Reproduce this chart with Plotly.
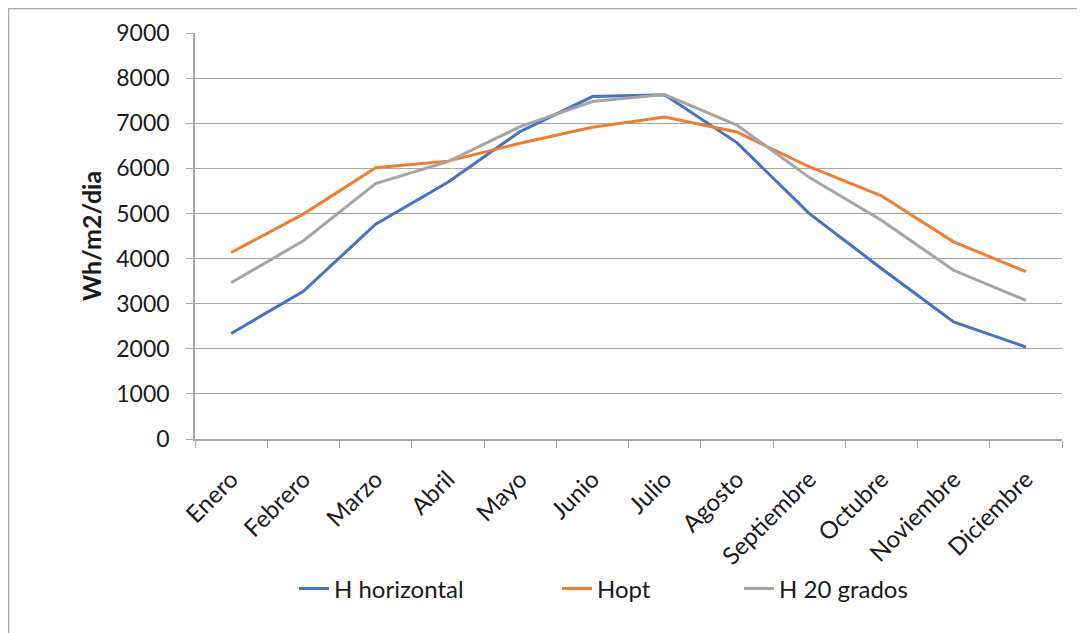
import plotly.graph_objects as go

meses = ["Enero", "Febrero", "Marzo", "Abril", "Mayo", "Junio", "Julio",
         "Agosto", "Septiembre", "Octubre", "Noviembre", "Diciembre"]
h_horizontal = [2340, 3275, 4760, 5690, 6815, 7590, 7630, 6570, 5000, 3780, 2595, 2040]
h_opt = [4135, 4985, 6015, 6160, 6555, 6910, 7135, 6805, 6035, 5390, 4370, 3710]
h_20_grados = [3465, 4395, 5660, 6150, 6925, 7480, 7635, 6960, 5800, 4850, 3740, 3075]
y_ticks = [0, 1000, 2000, 3000, 4000, 5000, 6000, 7000, 8000, 9000]

# page coordinates (browser body has an 8px margin)
OFF = 8
W, H = 1085, 633
PL, PR, PT, PB = 195, 1062, 33, 439   # plot area in page pixels
L, T = PL - OFF, PT - OFF
R = W - (PR - OFF)
B = H - (PB - OFF)
pw, ph = PR - PL, PB - PT

def px(x):
    return (x - PL) / pw

def py(y):
    return (PB - y) / ph

fig = go.Figure()
series = [("H horizontal", h_horizontal, "#4472C4", "legend", 294),
          ("Hopt", h_opt, "#ED7D31", "legend2", 557),
          ("H 20 grados", h_20_grados, "#A5A5A5", "legend3", 739)]
legends = {}
for name, vals, col, lg, lx in series:
    fig.add_trace(go.Scatter(x=meses, y=vals, name=name, mode="lines",
                             line=dict(color=col, width=3), legend=lg))
    legends[lg] = dict(orientation="h", x=px(lx), xanchor="left",
                       y=py(589), yanchor="middle", font=dict(size=24),
                       bgcolor="rgba(0,0,0,0)")

font_family = "Lato, 'Open Sans', sans-serif"
fig.update_layout(
    width=W, height=H,
    margin=dict(l=L, r=R, t=T, b=B, autoexpand=False),
    paper_bgcolor="white", plot_bgcolor="white",
    font=dict(family=font_family, size=23, color="#1a1a1a"),
    showlegend=True,
    shapes=[
        dict(type="line", xref="paper", yref="paper",
             x0=px(8.5), x1=px(1100), y0=py(8.5), y1=py(8.5),
             line=dict(color="#A6A6A6", width=1.5)),
        dict(type="line", xref="paper", yref="paper",
             x0=px(8.5), x1=px(8.5), y0=py(8.5), y1=py(650),
             line=dict(color="#A6A6A6", width=1.5)),
    ],
    **legends,
)
fig.update_xaxes(
    type="category", range=[-0.5, 11.5], tickangle=-45,
    tickson="boundaries", ticks="outside", ticklen=7, tickcolor="#A6A6A6",
    showline=True, linecolor="#A6A6A6", linewidth=1.5, showgrid=False,
    tickfont=dict(size=24), ticklabelstandoff=15,
)
fig.update_yaxes(
    range=[0, 9000], tickvals=y_ticks, ticks="outside", ticklen=7,
    tickcolor="#A6A6A6", showline=True, linecolor="#A6A6A6", linewidth=1.5,
    showgrid=True, gridcolor="#A6A6A6", gridwidth=1, zeroline=False,
    tickfont=dict(size=23), ticklabelstandoff=12,
    title=dict(text="<b>Wh/m2/dia</b>", font=dict(size=25), standoff=8),
)
fig.write_html("out.html")
